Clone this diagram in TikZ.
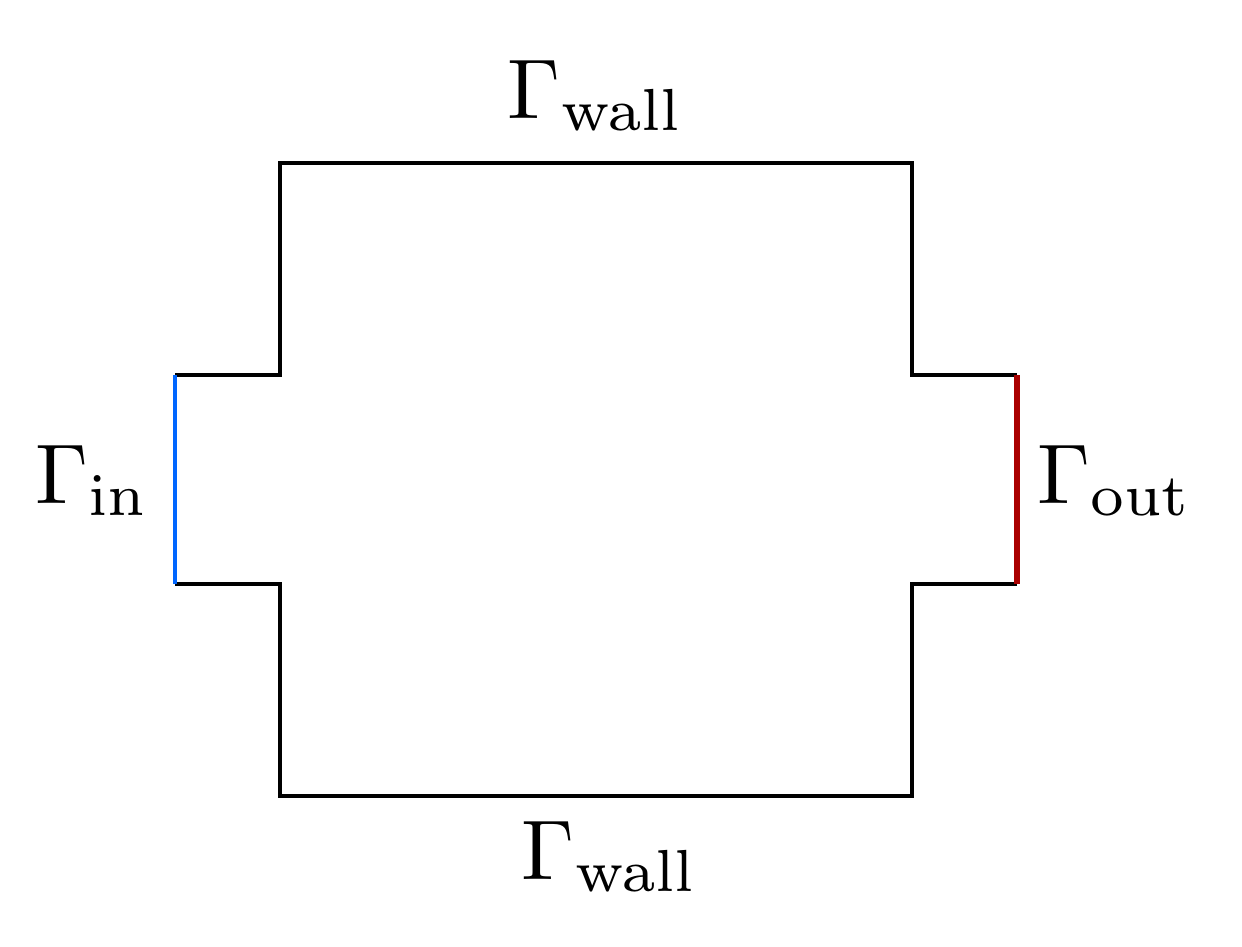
\documentclass[tikz,border=0pt]{standalone}
\begin{document}
\begin{tikzpicture}[x=0.25pt,y=-0.25pt,
  wall/.style={line width=1.1pt,black,line join=miter},
  inlet/.style={line width=1.1pt,color=inblue},
  outlet/.style={line width=1.4pt,color=outred},
  lab/.style={anchor=base,inner sep=0pt}]
\definecolor{inblue}{RGB}{0,102,255}
\definecolor{outred}{RGB}{170,0,0}
\useasboundingbox (0,0) rectangle (1242,946);
\coordinate (a1) at (175,375);
\coordinate (a2) at (280,375);
\coordinate (a3) at (280,163);
\coordinate (a4) at (912,163);
\coordinate (a5) at (912,375);
\coordinate (a6) at (1017,375);
\coordinate (b6) at (1017,584);
\coordinate (b5) at (912,584);
\coordinate (b4) at (912,796);
\coordinate (b3) at (280,796);
\coordinate (b2) at (280,584);
\coordinate (b1) at (175,584);
\draw[wall] (a1) -- (a2) -- (a3) -- (a4) -- (a5) -- (a6);
\draw[wall] (b6) -- (b5) -- (b4) -- (b3) -- (b2) -- (b1);
\draw[inlet] (a1) -- (b1);
\draw[outlet] (a6) -- (b6);
\node[lab] (tw) at (596,118) {\scalebox{2.12}{$\Gamma_{\mathrm{wall}}$}};
\node[lab] (bw) at (610,879) {\scalebox{2.12}{$\Gamma_{\mathrm{wall}}$}};
\node[lab] (gin) at (92,503) {\scalebox{2.12}{$\Gamma_{\mathrm{in}}$}};
\node[lab] (gout) at (1115,503) {\scalebox{2.12}{$\Gamma_{\mathrm{out}}$}};
\end{tikzpicture}
\end{document}
